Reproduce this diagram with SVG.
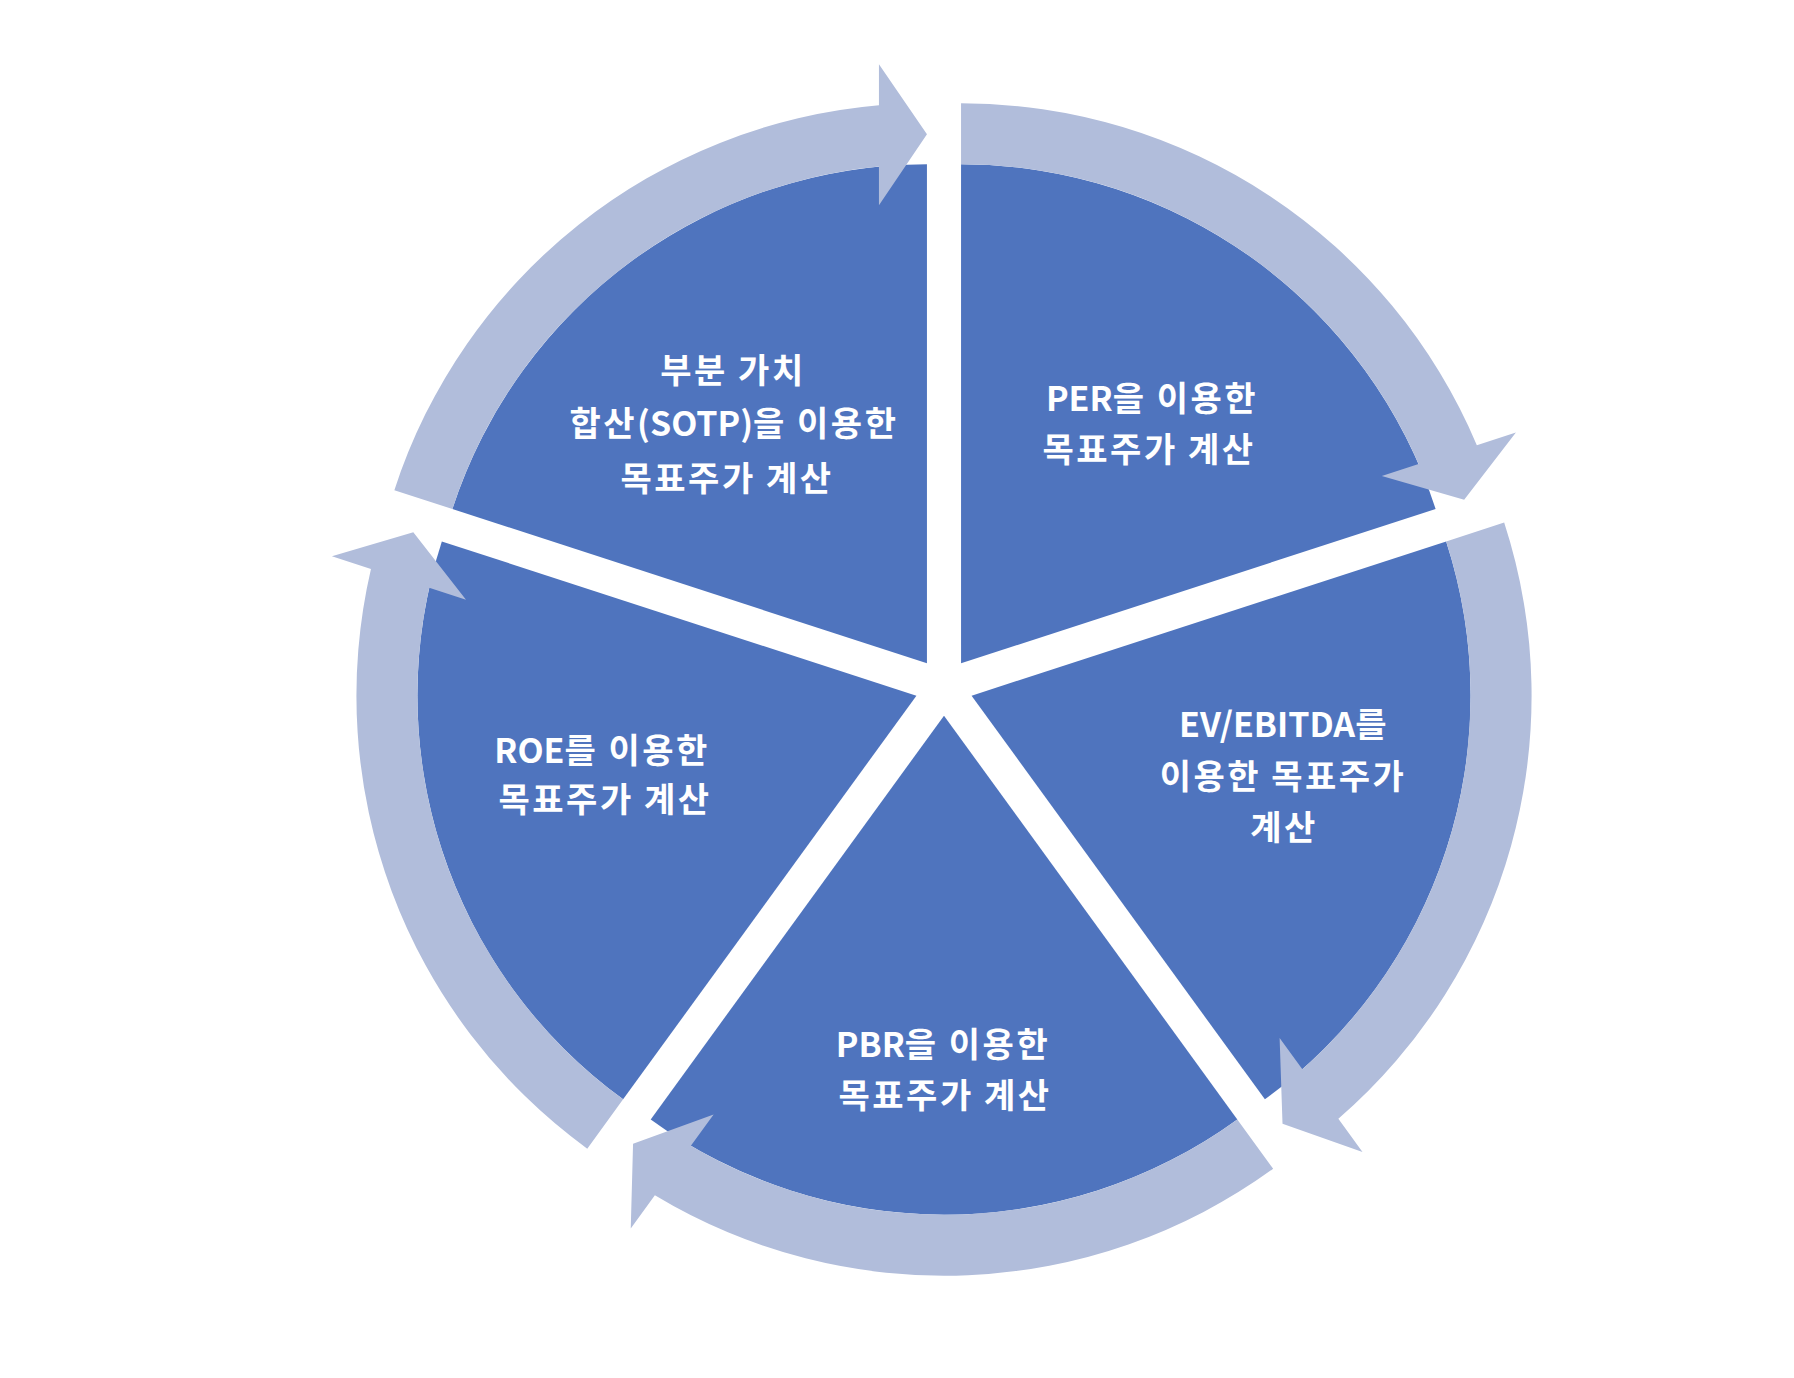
<svg xmlns="http://www.w3.org/2000/svg" width="1794" height="1378" viewBox="0 0 1794 1378">
<style>
.sector{fill:#4F74BE;}
.arrow{fill:#B1BDDB;}
.lbl{fill:#FFFFFF;font-family:"Noto Sans CJK KR","Malgun Gothic",sans-serif;font-weight:bold;font-size:34px;text-anchor:middle;letter-spacing:2.5px;}
.lat{letter-spacing:0px;}
</style>
<rect width="1794" height="1378" fill="#FFFFFF"/>
<g id="node-per">
<path class="sector" d="M961.05,663.24 L961.05,164.24 A499,499 0 0 1 1435.63,509.04 Z"/>
<text class="lbl" x="1152" y="410.5"><tspan class="lat">PER</tspan>을 이용한</text>
<text class="lbl" x="1149" y="461.5">목표주가 계산</text>
</g>
<g id="node-ev">
<path class="sector" d="M971.58,695.66 L1446.16,541.46 A499,499 0 0 1 1264.89,1099.36 Z"/>
<text class="lbl" x="1284" y="736.5"><tspan class="lat">EV/EBITDA</tspan>를</text>
<text class="lbl" x="1283" y="789">이용한 목표주가</text>
<text class="lbl" x="1284" y="839.5">계산</text>
</g>
<g id="node-pbr">
<path class="sector" d="M944,715.7 L1237.31,1119.4 A499,499 0 0 1 650.7,1119.4 Z"/>
<text class="lbl" x="943" y="1057"><tspan class="lat">PBR</tspan>을 이용한</text>
<text class="lbl" x="945" y="1107.5">목표주가 계산</text>
</g>
<g id="node-roe">
<path class="sector" d="M916.42,695.66 L623.12,1099.36 A499,499 0 0 1 441.84,541.46 Z"/>
<text class="lbl" x="602" y="762.5"><tspan class="lat">ROE</tspan>를 이용한</text>
<text class="lbl" x="605" y="812">목표주가 계산</text>
</g>
<g id="node-sotp">
<path class="sector" d="M926.95,663.24 L452.37,509.04 A499,499 0 0 1 926.95,164.24 Z"/>
<text class="lbl" x="733" y="382.5">부분 가치</text>
<text class="lbl" x="734" y="436">합산<tspan class="lat">(SOTP)</tspan>을 이용한</text>
<text class="lbl" x="727" y="490.5">목표주가 계산</text>
</g>
<g id="connectors">
<path class="arrow" d="M961.05,103.24 A560,560 0 0 1 1476.85,445.18 L1515.9,432.49 L1464.16,499.77 L1381.8,476.06 L1418.6,464.1 A499,499 0 0 0 961.05,164.24 Z"/>
<path class="arrow" d="M1504.17,522.61 A560,560 0 0 1 1338.36,1118.83 L1362.49,1152.05 L1282.52,1123.63 L1279.62,1037.98 L1302.36,1069.28 A499,499 0 0 0 1446.16,541.46 Z"/>
<path class="arrow" d="M1273.16,1168.75 A560,560 0 0 1 654.88,1195.29 L630.75,1228.51 L633.06,1143.67 L713.62,1114.44 L690.88,1145.74 A499,499 0 0 0 1237.31,1119.4 Z"/>
<path class="arrow" d="M587.26,1148.71 A560,560 0 0 1 370.96,568.9 L331.91,556.21 L413.31,532.19 L466.01,599.78 L429.21,587.82 A499,499 0 0 0 623.11,1099.36 Z"/>
<path class="arrow" d="M394.36,490.19 A560,560 0 0 1 878.95,105.3 L878.95,64.24 L926.95,134.24 L878.95,205.24 L878.95,166.55 A499,499 0 0 0 452.37,509.04 Z"/>
</g>
</svg>
